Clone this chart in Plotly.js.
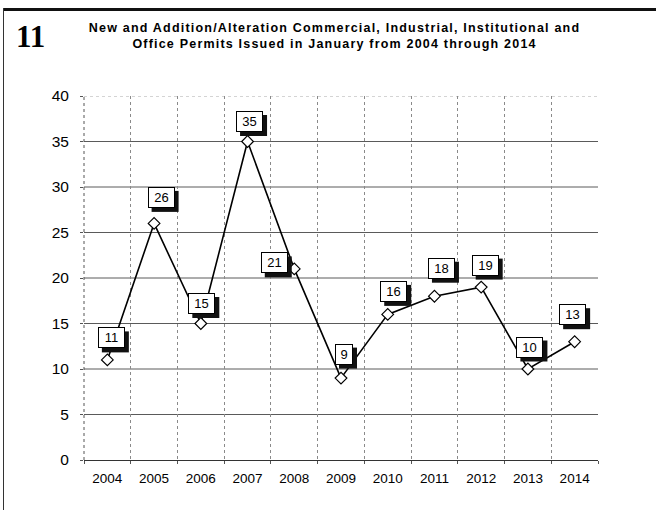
<!DOCTYPE html>
<html>
<head>
<meta charset="utf-8">
<script src="https://cdn.plot.ly/plotly-3.0.1.min.js"></script>
<style>
  html, body { margin: 0; padding: 0; background: #fff; }
  #wrap { position: relative; width: 656px; height: 510px; }
  #chart { width: 656px; height: 510px; }
  #chart .gtitle { letter-spacing: 1.2px; }
  .frame-top { position: absolute; left: 3px; right: 0; top: 8px; height: 3px; background: #111; }
  .frame-left { position: absolute; left: 3px; top: 8px; bottom: 0; width: 1px; background: #333; }
</style>
</head>
<body>
<div id="wrap">
  <div id="chart"></div>
  <div class="frame-top"></div>
  <div class="frame-left"></div>
</div>
<script>
// January permit counts, one per year
const years = ['2004', '2005', '2006', '2007', '2008', '2009', '2010', '2011', '2012', '2013', '2014'];
const permits = [11, 26, 15, 35, 21, 9, 16, 18, 19, 10, 13];
const yTicks = [0, 5, 10, 15, 20, 25, 30, 35, 40];

const chartNumber = '11';
const titleLines = [
  'New and Addition/Alteration Commercial, Industrial, Institutional and',
  'Office Permits Issued in January from 2004 through 2014'
];

// where each value box sits, in pixels from its point [right, up]
const labelShift = [[4, 22], [7, 26], [1, 20], [2, 20], [-20, 6], [3, 24],
                    [6, 23], [7, 28], [4, 22], [2, 22], [-2, 27]];

const FONT = 'Liberation Sans, Arial, Helvetica, sans-serif';
const BOX_H = 15, BOX_PAD = 2, SHADOW = 4;

const trace = {
  type: 'scatter',
  mode: 'lines+markers',
  x: years,
  y: permits,
  line: { color: '#000', width: 1.6 },
  marker: { symbol: 'diamond', size: 9, color: '#fff', line: { color: '#000', width: 1.2 } },
  cliponaxis: false,
  hoverinfo: 'skip'
};

const yMax = yTicks[yTicks.length - 1];
const shapes = [];

// no grid line along the right edge
shapes.push({
  type: 'line', xref: 'paper', yref: 'y', x0: 1, x1: 1, y0: 0.15, y1: yMax,
  layer: 'between', line: { color: '#fff', width: 2 }
});
// horizontal grid: solid inside, dotted along the top
yTicks.forEach(v => {
  if (v === 0) return;
  shapes.push({
    type: 'line', xref: 'paper', yref: 'y', x0: 0, x1: 1, y0: v, y1: v,
    layer: 'between',
    line: v === yMax ? { color: '#aaa', width: 1, dash: 'dot' } : { color: '#5a5a5a', width: 1 }
  });
});
// dotted value axis on the left
shapes.push({
  type: 'line', xref: 'paper', yref: 'y', x0: 0, x1: 0, y0: 0, y1: yMax,
  layer: 'between', line: { color: '#555', width: 1, dash: 'dot' }
});

// value boxes with a dark drop shadow; x is the category's position on the axis
const annotations = [];
permits.forEach((v, i) => {
  const txt = String(v);
  const w = txt.length > 1 ? 21 : 12;
  const outerW = w + 2 * BOX_PAD + 2, outerH = BOX_H + 2 * BOX_PAD + 2;
  const [dx, dy] = labelShift[i];
  const xi = years.indexOf(years[i]);

  shapes.push({
    type: 'rect', layer: 'above',
    xref: 'x', yref: 'y', xsizemode: 'pixel', ysizemode: 'pixel',
    xanchor: xi, yanchor: v,
    x0: dx - outerW / 2 + SHADOW, x1: dx + outerW / 2 + SHADOW,
    y0: dy - outerH / 2 - SHADOW, y1: dy + outerH / 2 - SHADOW,
    fillcolor: '#111', line: { width: 0 }
  });
  annotations.push({
    x: xi, y: v, xref: 'x', yref: 'y', showarrow: false,
    text: txt, width: w, height: BOX_H, borderpad: BOX_PAD, borderwidth: 1,
    xshift: dx, yshift: dy,
    bgcolor: '#fff', bordercolor: '#000',
    font: { family: FONT, size: 13, color: '#000' }
  });
});

// chart number in the corner
annotations.push({
  xref: 'paper', yref: 'paper', x: -0.105, y: 1.163, xanchor: 'center', yanchor: 'middle',
  showarrow: false, text: '<b>' + chartNumber + '</b>',
  font: { family: 'Liberation Serif, Times New Roman, serif', size: 31, color: '#000' }
});

const layout = {
  width: 656,
  height: 510,
  margin: { l: 84, r: 58, t: 96, b: 50 },
  paper_bgcolor: '#fff',
  plot_bgcolor: '#fff',
  showlegend: false,
  title: {
    text: '<b>' + titleLines.join('<br>') + '</b>',
    x: 0.51, xanchor: 'center', y: 0.938, yanchor: 'top',
    font: { family: FONT, size: 12.5, color: '#000' }
  },
  xaxis: {
    type: 'category',
    range: [-0.5, 10.5],
    tickson: 'boundaries',
    showgrid: true, gridcolor: '#8a8a8a', griddash: 'dot', gridwidth: 1,
    showline: true, linecolor: '#333', linewidth: 1,
    ticks: 'outside', ticklen: 3, tickcolor: '#555',
    ticklabelstandoff: 6,
    zeroline: false,
    tickfont: { family: FONT, size: 13.5, color: '#000' },
    fixedrange: true
  },
  yaxis: {
    range: [0, 40],
    tickvals: yTicks,
    showgrid: false,
    showline: false,
    zeroline: false,
    ticks: 'outside', ticklen: 3, tickcolor: '#555',
    ticklabelstandoff: 8,
    tickfont: { family: FONT, size: 15.5, color: '#000' },
    fixedrange: true
  },
  shapes: shapes,
  annotations: annotations
};

Plotly.newPlot('chart', [trace], layout, { displayModeBar: false, staticPlot: true });
</script>
</body>
</html>
